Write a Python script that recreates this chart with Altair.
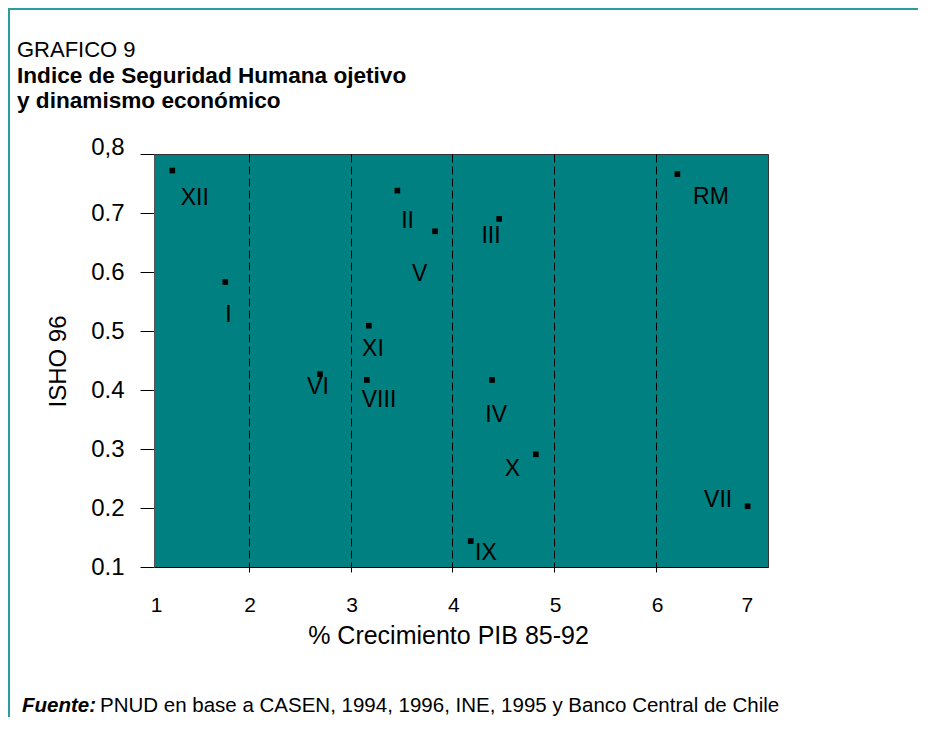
import altair as alt
import pandas as pd

# ---- data ----
regions = ["XII", "I", "II", "V", "XI", "III", "RM", "VI", "VIII", "IV", "X", "IX", "VII"]
pib_growth = [1.25, 1.77, 3.46, 3.83, 3.18, 4.46, 6.21, 2.70, 3.16, 4.39, 4.82, 4.18, 6.90]
isho_96 = [0.772, 0.583, 0.738, 0.669, 0.509, 0.690, 0.766, 0.427, 0.417, 0.417, 0.291, 0.144, 0.203]
# label anchor positions (data units) as placed in the original
label_x = [1.47, 1.80, 3.56, 3.68, 3.22, 4.38, 6.54, 2.68, 3.28, 4.43, 4.59, 4.33, 6.61]
label_y = [0.726, 0.527, 0.686, 0.596, 0.470, 0.661, 0.727, 0.405, 0.383, 0.358, 0.266, 0.124, 0.214]

# x axis: first tick sits at the left edge of the plot in the original
x_tick_values = [1.07, 2, 3, 4, 5, 6, 7]
x_tick_labels = ["1", "2", "3", "4", "5", "6", "7"]
y_ticks = [0.1, 0.2, 0.3, 0.4, 0.5, 0.6, 0.7, 0.8]
y_tick_labels = ["0.1", "0.2", "0.3", "0.4", "0.5", "0.6", "0.7", "0,8"]

title_lines = ["GRAFICO 9", "Indice de Seguridad Humana ojetivo", "y dinamismo económico"]
source_head = "Fuente:"
source_text = "PNUD en base a CASEN, 1994, 1996, INE, 1995 y Banco Central de Chile"
x_title = "% Crecimiento PIB 85-92"
y_title = "ISHO 96"

df = pd.DataFrame({"region": regions, "x": pib_growth, "y": isho_96,
                   "lx": label_x, "ly": label_y})

FONT = "Liberation Sans"
TEAL = "#008080"


def label_expr(vals, texts):
    return " : ".join(
        f"abs(datum.value - {v}) < 0.001 ? '{t}'" for v, t in zip(vals, texts)
    ) + " : ''"


x_scale = alt.Scale(domain=[1.07, 7.1], nice=False, zero=False)
y_scale = alt.Scale(domain=[0.1, 0.8], nice=False, zero=False)

edge_test = "datum.value < 1.5 || datum.value > 6.5"
x_axis = alt.Axis(
    values=x_tick_values, labelExpr=label_expr(x_tick_values, x_tick_labels),
    title=x_title, grid=True, gridColor="black", gridDash=[8, 4], gridWidth=1,
    gridOpacity={"condition": {"test": edge_test, "value": 0}, "value": 1},
    tickOpacity={"condition": {"test": edge_test, "value": 0}, "value": 1},
    labelOffset={"condition": [{"test": "datum.value < 1.5", "value": 2},
                               {"test": "datum.value > 6.5", "value": -11}], "value": 1},
    labelFlush=False, labelOverlap=False,
    tickSize=5, tickColor="black", domainColor="black", labelFont=FONT, labelFontSize=21,
    labelPadding=22, labelColor="black", titleFont=FONT, titleFontSize=25,
    titleFontWeight="normal", titleColor="black", titlePadding=8, titleX=294,
)
y_axis = alt.Axis(
    values=y_ticks, labelExpr=label_expr(y_ticks, y_tick_labels), title=y_title, grid=False,
    tickSize=14, tickColor="black", domainColor="#555555", labelFont=FONT,
    labelFontSize=24, labelPadding=16, labelColor="black", labelFlush=False,
    labelOffset={"condition": {"test": "datum.value > 0.75", "value": -7}, "value": 0},
    titleFont=FONT, titleFontSize=24, titleFontWeight="normal", titleColor="black",
    titleX=-84, titleY=207,
)

base = alt.Chart(df)

points = base.mark_square(size=32, color="black", opacity=1, filled=True).encode(
    x=alt.X("x:Q", scale=x_scale, axis=x_axis),
    y=alt.Y("y:Q", scale=y_scale, axis=y_axis),
)

labels = base.mark_text(font=FONT, fontSize=23, color="black", align="center",
                        baseline="middle").encode(
    x=alt.X("lx:Q", scale=x_scale),
    y=alt.Y("ly:Q", scale=y_scale),
    text="region:N",
)


def text_layer(txt, x, y, size, weight="normal", style="normal"):
    return alt.Chart(pd.DataFrame({"t": [txt]})).mark_text(
        font=FONT, fontSize=size, fontWeight=weight, fontStyle=style, align="left",
        baseline="alphabetic", color="black"
    ).encode(x=alt.value(x), y=alt.value(y), text="t:N")


t1 = text_layer(title_lines[0], -137, -97, 22)
t2 = text_layer(title_lines[1], -137, -71, 22.6, weight="bold")
t3 = text_layer(title_lines[2], -137, -46, 22.6, weight="bold")
s1 = text_layer(source_head, -132, 558, 20.5, weight="bold", style="italic")
s2 = text_layer(source_text, -54, 558, 20.5)

# decorative frame (top and left edges) of the original figure
frame_top = alt.Chart(pd.DataFrame({"a": [0]})).mark_rule(color="#2a9d9d", strokeWidth=2).encode(
    x=alt.value(-146), x2=alt.value(780), y=alt.value(-145)
)
frame_left = alt.Chart(pd.DataFrame({"a": [0]})).mark_rule(color="#2a9d9d", strokeWidth=2).encode(
    x=alt.value(-145), y=alt.value(-146), y2=alt.value(580)
)

chart = alt.layer(points, labels, t1, t2, t3, s1, s2, frame_top, frame_left).properties(
    width=614, height=413,
    autosize=alt.AutoSizeParams(type="none"),
    padding={"left": 146, "top": 146, "right": 150, "bottom": 150},
    background="white",
).configure_view(
    fill=TEAL, stroke="#333333", strokeWidth=1
)

chart.save("out.html", embed_options={"renderer": "svg", "actions": False})
